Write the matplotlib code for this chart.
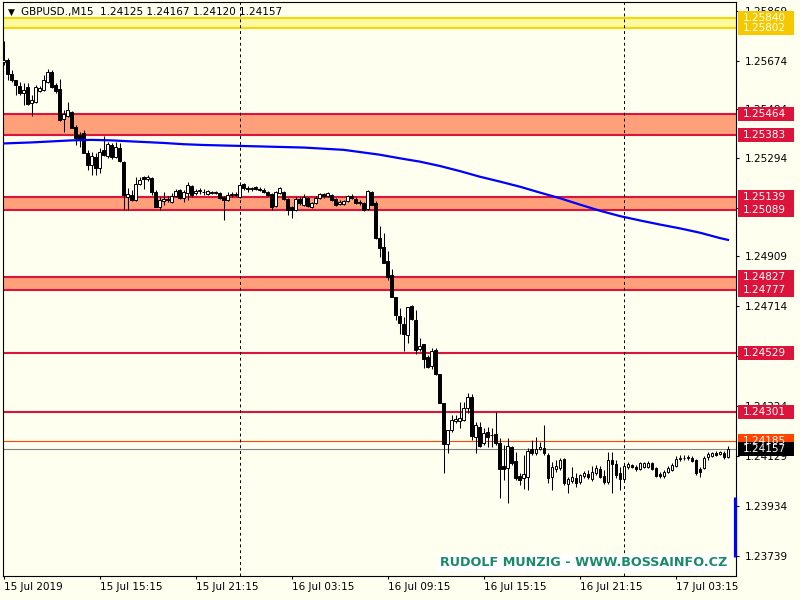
import matplotlib
matplotlib.use("Agg")
import matplotlib.pyplot as plt
from matplotlib.patches import Rectangle
from matplotlib.transforms import blended_transform_factory

# GBPUSD M15, 15 Jul 09:15 .. 17 Jul 06:30 (one entry per bar)
opens = [
    1.25669, 1.25676, 1.25622, 1.25598, 1.25575, 1.25547, 1.25571, 1.25508, 1.25512, 1.25555,
    1.25559, 1.25590, 1.25630, 1.25579, 1.25563, 1.25446, 1.25457, 1.25473, 1.25414, 1.25383,
    1.25391, 1.25313, 1.25266, 1.25297, 1.25254, 1.25325, 1.25301, 1.25344, 1.25297, 1.25332,
    1.25278, 1.25141, 1.25149, 1.25129, 1.25192, 1.25219, 1.25211, 1.25215, 1.25160, 1.25102,
    1.25125, 1.25133, 1.25121, 1.25145, 1.25168, 1.25137, 1.25156, 1.25184, 1.25156, 1.25164,
    1.25160, 1.25152, 1.25156, 1.25156, 1.25156, 1.25141, 1.25129, 1.25149, 1.25149, 1.25141,
    1.25192, 1.25176, 1.25172, 1.25180, 1.25172, 1.25168, 1.25160, 1.25152, 1.25106, 1.25156,
    1.25160, 1.25133, 1.25102, 1.25090, 1.25133, 1.25109, 1.25137, 1.25102, 1.25117, 1.25137,
    1.25152, 1.25145, 1.25149, 1.25133, 1.25113, 1.25113, 1.25125, 1.25145, 1.25133, 1.25121,
    1.25117, 1.25094, 1.25160, 1.25117, 1.24980, 1.24945, 1.24890, 1.24836, 1.24750, 1.24675,
    1.24644, 1.24601, 1.24714, 1.24660, 1.24546, 1.24566, 1.24515, 1.24480, 1.24542, 1.24449,
    1.24335, 1.24175, 1.24230, 1.24265, 1.24265, 1.24269, 1.24316, 1.24359, 1.24202, 1.24241,
    1.24179, 1.24222, 1.24210, 1.24214, 1.24179, 1.24089, 1.24081, 1.24163, 1.24108, 1.24050,
    1.24042, 1.24046, 1.24155, 1.24140, 1.24155, 1.24159, 1.24132, 1.24046, 1.24077, 1.24081,
    1.24116, 1.24019, 1.24030, 1.24042, 1.24026, 1.24050, 1.24058, 1.24038, 1.24062, 1.24077,
    1.24050, 1.24026, 1.24112, 1.24097, 1.24062, 1.24038, 1.24085, 1.24093, 1.24085, 1.24077,
    1.24085, 1.24085, 1.24101, 1.24081, 1.24058, 1.24050, 1.24066, 1.24073, 1.24089, 1.24116,
    1.24120, 1.24120, 1.24120, 1.24112, 1.24077, 1.24081, 1.24124, 1.24128, 1.24140, 1.24136,
    1.24140, 1.24125,
]
highs = [
    1.25751, 1.25684, 1.25637, 1.25598, 1.25590, 1.25587, 1.25587, 1.25540, 1.25579, 1.25575,
    1.25618, 1.25641, 1.25637, 1.25587, 1.25602, 1.25481, 1.25512, 1.25477, 1.25422, 1.25395,
    1.25403, 1.25325, 1.25317, 1.25313, 1.25332, 1.25379, 1.25356, 1.25352, 1.25356, 1.25352,
    1.25282, 1.25176, 1.25168, 1.25219, 1.25219, 1.25223, 1.25227, 1.25219, 1.25168, 1.25141,
    1.25160, 1.25145, 1.25156, 1.25172, 1.25172, 1.25168, 1.25199, 1.25188, 1.25172, 1.25176,
    1.25172, 1.25168, 1.25164, 1.25164, 1.25160, 1.25145, 1.25160, 1.25160, 1.25160, 1.25199,
    1.25196, 1.25184, 1.25180, 1.25184, 1.25180, 1.25176, 1.25164, 1.25156, 1.25164, 1.25180,
    1.25164, 1.25137, 1.25106, 1.25141, 1.25141, 1.25152, 1.25141, 1.25121, 1.25145, 1.25156,
    1.25156, 1.25160, 1.25152, 1.25137, 1.25129, 1.25129, 1.25149, 1.25152, 1.25141, 1.25129,
    1.25121, 1.25168, 1.25164, 1.25125, 1.25027, 1.25000, 1.24930, 1.24859, 1.24750, 1.24707,
    1.24671, 1.24711, 1.24718, 1.24699, 1.24589, 1.24566, 1.24523, 1.24550, 1.24550, 1.24449,
    1.24335, 1.24230, 1.24288, 1.24288, 1.24339, 1.24339, 1.24374, 1.24370, 1.24261, 1.24261,
    1.24238, 1.24241, 1.24238, 1.24300, 1.24198, 1.24171, 1.24198, 1.24167, 1.24144, 1.24062,
    1.24132, 1.24159, 1.24191, 1.24202, 1.24183, 1.24249, 1.24140, 1.24105, 1.24112, 1.24120,
    1.24120, 1.24046, 1.24085, 1.24062, 1.24058, 1.24069, 1.24073, 1.24089, 1.24093, 1.24089,
    1.24073, 1.24144, 1.24144, 1.24112, 1.24085, 1.24101, 1.24105, 1.24097, 1.24093, 1.24105,
    1.24105, 1.24108, 1.24105, 1.24085, 1.24066, 1.24073, 1.24089, 1.24101, 1.24128, 1.24132,
    1.24132, 1.24132, 1.24128, 1.24116, 1.24085, 1.24128, 1.24144, 1.24144, 1.24148, 1.24148,
    1.24148, 1.24167,
]
lows = [
    1.25657, 1.25598, 1.25590, 1.25540, 1.25540, 1.25500, 1.25500, 1.25457, 1.25508, 1.25551,
    1.25555, 1.25587, 1.25567, 1.25547, 1.25438, 1.25395, 1.25453, 1.25410, 1.25344, 1.25336,
    1.25313, 1.25246, 1.25227, 1.25227, 1.25235, 1.25301, 1.25293, 1.25289, 1.25293, 1.25278,
    1.25090, 1.25090, 1.25125, 1.25125, 1.25188, 1.25172, 1.25203, 1.25149, 1.25102, 1.25090,
    1.25109, 1.25121, 1.25117, 1.25141, 1.25133, 1.25121, 1.25129, 1.25141, 1.25149, 1.25152,
    1.25149, 1.25149, 1.25152, 1.25152, 1.25133, 1.25051, 1.25125, 1.25141, 1.25145, 1.25137,
    1.25168, 1.25160, 1.25164, 1.25168, 1.25164, 1.25156, 1.25145, 1.25090, 1.25102, 1.25152,
    1.25129, 1.25070, 1.25059, 1.25086, 1.25109, 1.25106, 1.25102, 1.25098, 1.25113, 1.25133,
    1.25137, 1.25141, 1.25125, 1.25106, 1.25109, 1.25109, 1.25121, 1.25133, 1.25113, 1.25109,
    1.25086, 1.25090, 1.25109, 1.24977, 1.24906, 1.24883, 1.24816, 1.24750, 1.24660, 1.24605,
    1.24539, 1.24570, 1.24660, 1.24527, 1.24539, 1.24472, 1.24472, 1.24468, 1.24445, 1.24335,
    1.24062, 1.24140, 1.24222, 1.24257, 1.24237, 1.24265, 1.24296, 1.24191, 1.24140, 1.24163,
    1.24171, 1.24163, 1.24163, 1.24171, 1.23964, 1.24034, 1.23944, 1.24093, 1.24034, 1.24015,
    1.23999, 1.23995, 1.24132, 1.24132, 1.24152, 1.24132, 1.24022, 1.23995, 1.24065, 1.24073,
    1.24015, 1.23983, 1.24022, 1.24007, 1.24019, 1.24042, 1.24038, 1.24030, 1.24054, 1.24042,
    1.24019, 1.24019, 1.23983, 1.24042, 1.23995, 1.24030, 1.24077, 1.24081, 1.24069, 1.24073,
    1.24081, 1.24081, 1.24073, 1.24046, 1.24042, 1.24042, 1.24062, 1.24069, 1.24085, 1.24108,
    1.24112, 1.24112, 1.24105, 1.24054, 1.24046, 1.24077, 1.24112, 1.24124, 1.24128, 1.24132,
    1.24116, 1.24120,
]
closes = [
    1.25676, 1.25622, 1.25598, 1.25579, 1.25547, 1.25559, 1.25504, 1.25520, 1.25571, 1.25567,
    1.25598, 1.25629, 1.25571, 1.25555, 1.25442, 1.25465, 1.25481, 1.25410, 1.25371, 1.25367,
    1.25313, 1.25266, 1.25301, 1.25254, 1.25317, 1.25305, 1.25348, 1.25297, 1.25336, 1.25282,
    1.25149, 1.25152, 1.25129, 1.25192, 1.25207, 1.25211, 1.25219, 1.25160, 1.25102, 1.25129,
    1.25133, 1.25129, 1.25145, 1.25164, 1.25137, 1.25160, 1.25188, 1.25149, 1.25164, 1.25168,
    1.25160, 1.25164, 1.25160, 1.25160, 1.25137, 1.25129, 1.25149, 1.25152, 1.25152, 1.25188,
    1.25176, 1.25172, 1.25176, 1.25172, 1.25168, 1.25160, 1.25149, 1.25102, 1.25160, 1.25176,
    1.25133, 1.25090, 1.25090, 1.25133, 1.25117, 1.25141, 1.25106, 1.25117, 1.25137, 1.25152,
    1.25145, 1.25156, 1.25129, 1.25109, 1.25121, 1.25125, 1.25145, 1.25137, 1.25117, 1.25117,
    1.25090, 1.25164, 1.25109, 1.24980, 1.24941, 1.24883, 1.24828, 1.24750, 1.24679, 1.24648,
    1.24605, 1.24711, 1.24664, 1.24542, 1.24558, 1.24507, 1.24476, 1.24539, 1.24449, 1.24335,
    1.24175, 1.24230, 1.24269, 1.24273, 1.24277, 1.24316, 1.24359, 1.24206, 1.24249, 1.24167,
    1.24218, 1.24202, 1.24210, 1.24179, 1.24077, 1.24077, 1.24167, 1.24101, 1.24042, 1.24034,
    1.24058, 1.24147, 1.24140, 1.24155, 1.24163, 1.24140, 1.24042, 1.24085, 1.24089, 1.24112,
    1.24022, 1.24038, 1.24046, 1.24022, 1.24054, 1.24062, 1.24046, 1.24066, 1.24081, 1.24046,
    1.24026, 1.24112, 1.24097, 1.24054, 1.24038, 1.24089, 1.24097, 1.24085, 1.24077, 1.24101,
    1.24101, 1.24101, 1.24077, 1.24050, 1.24050, 1.24066, 1.24081, 1.24093, 1.24116, 1.24120,
    1.24120, 1.24124, 1.24108, 1.24062, 1.24066, 1.24120, 1.24136, 1.24140, 1.24132, 1.24144,
    1.24124, 1.24157,
]

# moving average read at a few bars
ma_bars = [0, 7, 12, 17, 22, 27, 32, 40, 45, 50, 60, 75, 85, 94, 99, 104, 109, 114,
           119, 124, 129, 134, 139, 144, 149, 154, 159, 164, 169, 174, 179, 181]
ma_vals = [1.25350, 1.25354, 1.25358, 1.25362, 1.25364, 1.25362, 1.25358, 1.25352,
           1.25347, 1.25344, 1.25340, 1.25334, 1.25325, 1.25306, 1.25292, 1.25279,
           1.25262, 1.25242, 1.25220, 1.25201, 1.25181, 1.25158, 1.25136, 1.25111,
           1.25087, 1.25066, 1.25049, 1.25033, 1.25018, 1.25001, 1.24980, 1.24973]

# support / resistance
yellow_zone = (1.25802, 1.25840)
red_zones = [(1.25383, 1.25464), (1.25089, 1.25139), (1.24777, 1.24827)]
red_lines = [1.24529, 1.24301]
orange_line = 1.24185
bid = 1.24157
side_bar = (1.23733, 1.23968)

ytick_vals = [1.25869, 1.25674, 1.25484, 1.25294, 1.25099, 1.24909, 1.24714,
              1.24519, 1.24324, 1.24129, 1.23934, 1.23739]
xtick_bars = [0, 24, 48, 72, 96, 120, 144, 168]
xtick_labels = ["15 Jul 2019", "15 Jul 15:15", "15 Jul 21:15", "16 Jul 03:15",
                "16 Jul 09:15", "16 Jul 15:15", "16 Jul 21:15", "17 Jul 03:15"]
day_breaks = [59, 155]

BG = "#FFFFF0"
CRIMSON = "#DC143C"
SALMON = "#FFA07A"

plt.rcParams["font.family"] = "DejaVu Sans"
fig = plt.figure(figsize=(8, 6), dpi=100, facecolor=BG)
ax = fig.add_axes([2.5 / 800, 24 / 600, 733.5 / 800, 574 / 600], facecolor=BG)
ax.set_xlim(-0.25, 183)
ax.set_ylim(1.23659, 1.25903)

# zones and levels
ax.axhspan(*yellow_zone, color="#FFF8A0", lw=0, zorder=0.5)
for v in yellow_zone:
    ax.axhline(v, color="#F5D800", lw=1.5, zorder=0.8)
for lo, hi in red_zones:
    ax.axhspan(lo, hi, color=SALMON, lw=0, zorder=0.5)
    ax.axhline(lo, color=CRIMSON, lw=1.5, zorder=0.8)
    ax.axhline(hi, color=CRIMSON, lw=1.5, zorder=0.8)
for v in red_lines:
    ax.axhline(v, color=CRIMSON, lw=1.5, zorder=0.8)
ax.axhline(orange_line, color="#FF4500", lw=0.8, zorder=0.8)
ax.axhline(bid, color="#808080", lw=0.8, zorder=0.8)

for b in day_breaks:
    ax.axvline(b, color="black", lw=0.7, ls=(0, (3, 3)), zorder=1)

# candles
n = len(closes)
xs = list(range(n))
ax.vlines(xs, lows, highs, color="black", lw=0.75, zorder=2)
for i in xs:
    o, c = opens[i], closes[i]
    face = "white" if c > o else "black"
    ax.bar(i, max(abs(c - o), 0.000005), width=0.68, bottom=min(o, c),
           color=face, edgecolor="black", linewidth=0.7, zorder=3)

ax.plot(ma_bars, ma_vals, color="#0000FF", lw=1.6, zorder=4)

# small blue bar on the price scale
ax.plot([182.87, 182.87], side_bar, color="#0000FF", lw=2.3,
        solid_capstyle="butt", clip_on=False, zorder=6)

# axes styling
for s in ax.spines.values():
    s.set_color("black")
    s.set_linewidth(0.8)
ax.yaxis.tick_right()
ax.set_yticks(ytick_vals)
ax.set_yticklabels([f"{v:.5f}" for v in ytick_vals])
ax.tick_params(axis="y", length=2.5, width=0.8, pad=3.5, labelsize=7.5, colors="black")
ax.set_xticks(xtick_bars)
ax.set_xticklabels(xtick_labels)
ax.tick_params(axis="x", length=2.5, width=0.8, pad=2, labelsize=7.5)
for lbl in ax.get_xticklabels():
    lbl.set_horizontalalignment("left")

# price labels on the right scale
trans = blended_transform_factory(ax.transAxes, ax.transData)
box_x = (738 - 2.5) / 733.5
box_w = 56 / 733.5
txt_x = (743 - 2.5) / 733.5
half_h = 0.000275


def price_box(v, face, text_color="white"):
    ax.add_patch(Rectangle((box_x, v - half_h), box_w, 2 * half_h, transform=trans,
                           facecolor=face, edgecolor="none", clip_on=False, zorder=10))
    ax.text(txt_x, v, f"{v:.5f}", transform=trans, color=text_color, fontsize=7.5,
            va="center", ha="left", clip_on=False, zorder=11)


price_box(yellow_zone[1], "#F5C800")
price_box(yellow_zone[0], "#F5C800")
for lo, hi in red_zones:
    price_box(hi, CRIMSON)
    price_box(lo, CRIMSON)
for v in red_lines:
    price_box(v, CRIMSON)
price_box(orange_line, "#FF4500")
price_box(bid, "black")

# header and watermark
fig.text(11 / 800, 1 - 12.5 / 600, "\u25bc", fontsize=6.5, ha="center", va="center")
fig.text(21 / 800, 1 - 12.5 / 600,
         f"GBPUSD.,M15  {opens[-1]:.5f} {highs[-1]:.5f} {lows[-1]:.5f} {closes[-1]:.5f}",
         fontsize=7.5, ha="left", va="center")
ax.text((727 - 2.5) / 733.5, 13 / 574, "RUDOLF MUNZIG - WWW.BOSSAINFO.CZ",
        transform=ax.transAxes, ha="right", va="center", fontsize=9.2,
        fontweight="bold", color="#1B8A6B", zorder=12,
        bbox=dict(facecolor="white", edgecolor="none", pad=1.5))

fig.savefig("out.png", dpi=100, facecolor=BG)
